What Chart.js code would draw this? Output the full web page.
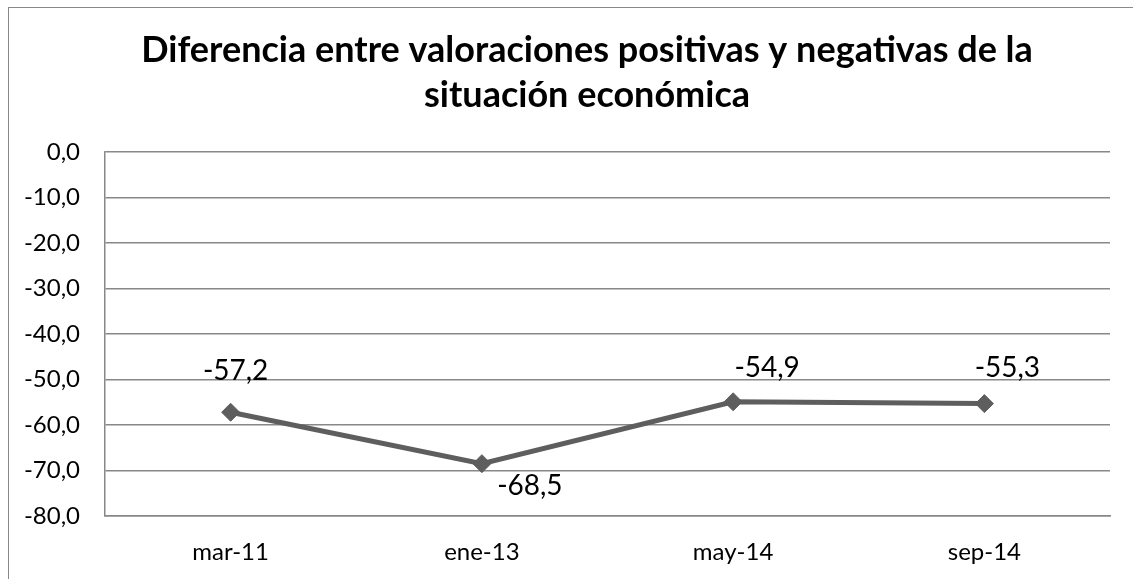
<!DOCTYPE html>
<html>
<head>
<meta charset="utf-8">
<script src="https://cdn.jsdelivr.net/npm/chart.js@4"></script>
<style>
  html, body { margin: 0; padding: 0; background: #fff; }
  #wrap { position: relative; width: 1133px; height: 579px; overflow: hidden; }
  #frame { position: absolute; left: 8px; top: 7px; width: 1200px; height: 700px;
           border-left: 1.5px solid #888; border-top: 1.5px solid #888; }
  canvas { position: absolute; left: 0; top: 0; }
</style>
</head>
<body>
<div id="wrap">
  <div id="frame"></div>
  <canvas id="chart" width="1133" height="579"></canvas>
</div>
<script>
const categories = ['mar-11', 'ene-13', 'may-14', 'sep-14'];
const diferencia = [-57.2, -68.5, -54.9, -55.3];
const titleLines = ['Diferencia entre valoraciones positivas y negativas de la', 'situación económica'];

// where each value label sits relative to its point (dx, dy of text centre)
const labelOffsets = [[5, -41], [48, 22], [34, -34], [23, -36]];

const fmt = v => v.toFixed(1).replace('.', ',');

const valueLabels = {
  id: 'valueLabels',
  afterLayout(chart) {
    // the original centres its title a bit right of the canvas middle
    if (chart.titleBlock) chart.titleBlock.left = 64;
  },
  afterDatasetsDraw(chart) {
    const ctx = chart.ctx;
    const meta = chart.getDatasetMeta(0);
    ctx.save();
    ctx.font = '28px Lato';
    ctx.fillStyle = '#000';
    ctx.textAlign = 'center';
    ctx.textBaseline = 'middle';
    meta.data.forEach((pt, i) => {
      const [dx, dy] = labelOffsets[i];
      ctx.fillText(fmt(diferencia[i]), pt.x + dx, pt.y + dy);
    });
    ctx.restore();
  }
};

const ctx = document.getElementById('chart').getContext('2d');
const chart = new Chart(ctx, {
  type: 'line',
  data: {
    labels: categories,
    datasets: [{
      data: diferencia,
      borderColor: '#5e5e5e',
      borderWidth: 5,
      pointStyle: 'rectRot',
      pointRadius: 9,
      pointBackgroundColor: '#5e5e5e',
      pointBorderColor: '#5e5e5e',
      pointBorderWidth: 1,
      tension: 0,
    }],
  },
  options: {
    responsive: false,
    animation: false,
    layout: { padding: { left: 0, right: 23, top: 0, bottom: 13 } },
    plugins: {
      legend: { display: false },
      tooltip: { enabled: false },
      title: {
        display: true,
        text: titleLines,
        color: '#000',
        font: { family: 'Lato', size: 36, weight: 'bold', lineHeight: 1.25 },
        padding: { top: 28, bottom: 34 },
      },
    },
    scales: {
      x: {
        offset: true,
        grid: { display: false, drawTicks: false },
        border: { display: true, color: '#888', width: 1.5 },
        ticks: { color: '#000', font: { family: 'Lato', size: 24 }, padding: 22, maxRotation: 0 },
        afterFit(scale) { scale.height = 50; },
      },
      y: {
        min: -80,
        max: 0,
        grid: { color: '#888', lineWidth: 1.5, drawTicks: false },
        border: { display: true, color: '#888', width: 1.5 },
        ticks: {
          stepSize: 10,
          color: '#000',
          font: { family: 'Lato', size: 24 },
          padding: 25,
          callback: v => fmt(v),
        },
        afterFit(scale) { scale.width = 105; },
      },
    },
  },
  plugins: [valueLabels],
});
</script>
</body>
</html>
